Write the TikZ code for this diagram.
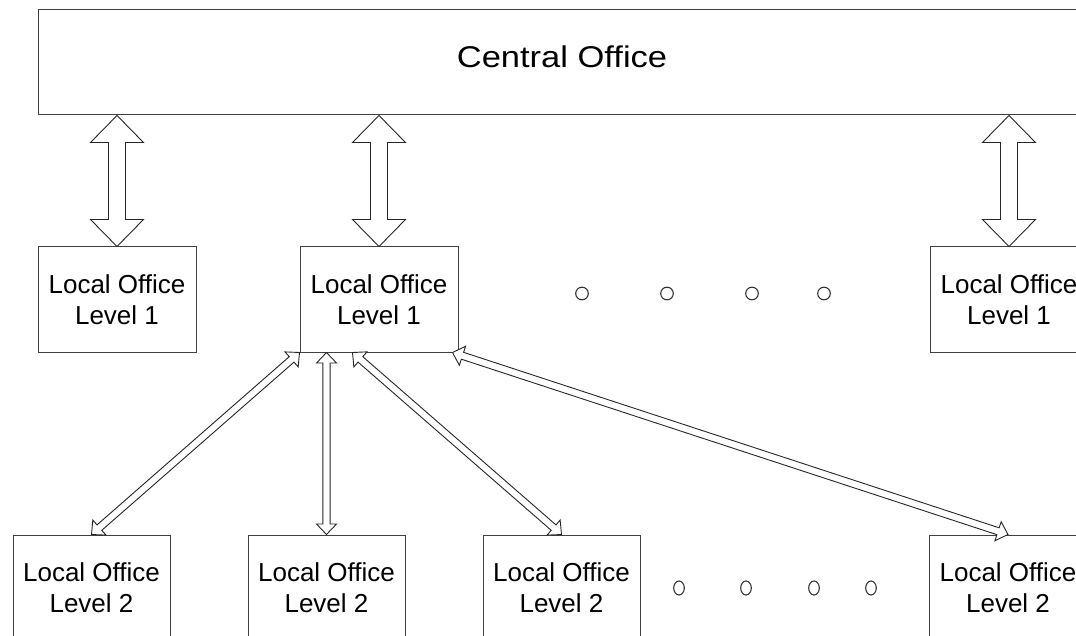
\documentclass[tikz,border=0pt]{standalone}
\usepackage{fontspec}
\setmainfont{Liberation Sans}
\newfontfamily\headfont[FakeStretch=1.15]{Liberation Sans}
\usetikzlibrary{calc}

% Two-headed outlined arrow between two points:
% #1 style, #2 start, #3 end, #4 half shaft width, #5 half head width, #6 head length
\newcommand{\twowaylink}[6]{%
  \draw[#1] (#2)
    -- ($(#2)!#6!(#3)!#5!90:(#3)$)
    -- ($(#2)!#6!(#3)!#4!90:(#3)$)
    -- ($(#3)!#6!(#2)!#4!-90:(#2)$)
    -- ($(#3)!#6!(#2)!#5!-90:(#2)$)
    -- (#3)
    -- ($(#3)!#6!(#2)!#5!90:(#2)$)
    -- ($(#3)!#6!(#2)!#4!90:(#2)$)
    -- ($(#2)!#6!(#3)!#4!-90:(#3)$)
    -- ($(#2)!#6!(#3)!#5!-90:(#3)$)
    -- cycle;}

\begin{document}
\begin{tikzpicture}[x=1pt,y=-1pt,
  office/.style={draw=black!75, line width=1pt, fill=white, inner sep=0pt,
    minimum width=158pt, minimum height=105pt, align=center,
    font=\fontsize{26}{31}\selectfont},
  linkline/.style={draw=black!85, line width=0.9pt, fill=white, line join=miter},
  dotmark/.style={draw=black!80, line width=1.1pt}]
\useasboundingbox (0,0) rectangle (1076,636);
\clip (0,0) rectangle (1076,636);

% central office
\node[draw=black!75, line width=1pt, minimum width=1048pt, minimum height=105pt,
      inner sep=0pt] (co) at (562,62.5) {};
\node[font=\headfont\fontsize{30}{34}\selectfont, inner sep=0pt] (cotext) at (562,57) {Central Office};

% first level offices
\node[office] (l1a) at (117,299.5)  {Local Office\\Level 1};
\node[office] (l1b) at (379,299.5)  {Local Office\\Level 1};
\node[office] (l1c) at (1009,299.5) {Local Office\\Level 1};

% second level offices
\node[office, minimum width=157pt] (l2a) at (91.5,587.5)  {Local Office\\Level 2};
\node[office, minimum width=157pt] (l2b) at (326.5,587.5) {Local Office\\Level 2};
\node[office, minimum width=157pt] (l2c) at (561.5,587.5) {Local Office\\Level 2};
\node[office] (l2d) at (1008,587.5) {Local Office\\Level 2};

% block arrows between the central office and level 1
\coordinate (ca) at (co.south -| l1a.north);
\coordinate (cb) at (co.south -| l1b.north);
\coordinate (cc) at (co.south -| l1c.north);
\twowaylink{linkline}{ca}{l1a.north}{8.5pt}{26.5pt}{27pt}
\twowaylink{linkline}{cb}{l1b.north}{8.5pt}{26.5pt}{27pt}
\twowaylink{linkline}{cc}{l1c.north}{8.5pt}{26.5pt}{27pt}

% thin arrows between level 1 and level 2
\coordinate (sa) at (l1b.south west);
\coordinate (sb) at (l1b.south -| l2b.north);
\coordinate (sc) at ($(l1b.south west)+(53,0)$);
\coordinate (sd) at ($(l1b.south east)+(-6,0)$);
\twowaylink{linkline}{sa}{l2a.north}{3.6pt}{10pt}{10.5pt}
\twowaylink{linkline}{sb}{l2b.north}{3.6pt}{10pt}{10.5pt}
\twowaylink{linkline}{sc}{l2c.north}{3.6pt}{10pt}{10.5pt}
\twowaylink{linkline}{sd}{l2d.north}{3.6pt}{10pt}{10.5pt}

% ellipsis marks
\foreach \px in {582,667,752,824}
  \draw[dotmark] (\px,293.5) circle[radius=6.3pt];
\foreach \px in {679,746,814,871}
  \draw[dotmark] (\px,588) ellipse[x radius=5.3pt, y radius=7pt];
\end{tikzpicture}
\end{document}
